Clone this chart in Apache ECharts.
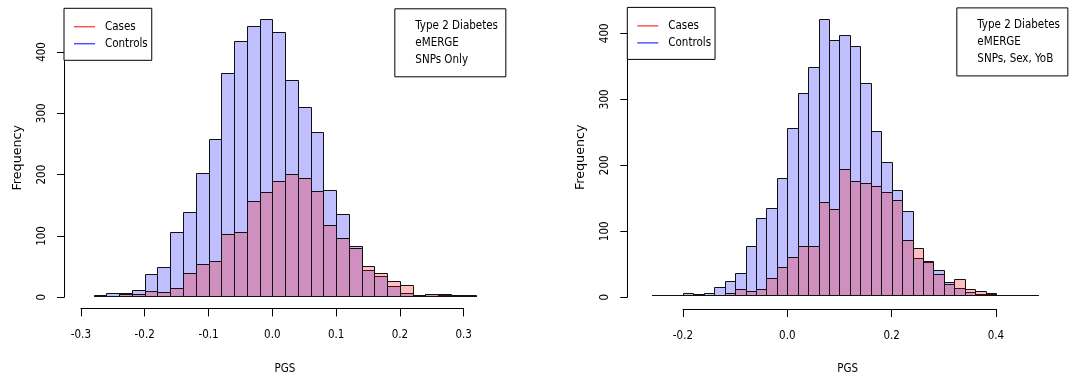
<!DOCTYPE html>
<html>
<head>
<meta charset="utf-8">
<script src="https://cdn.jsdelivr.net/npm/echarts@6.0.0/dist/echarts.min.js"></script>
<style>
html,body{margin:0;padding:0;background:#ffffff;}
#chart{width:1079px;height:380px;}
</style>
</head>
<body>
<div id="chart"></div>
<script>
// ---------------- data ----------------
const binWidth = 0.02;

// Panel 1: SNPs Only (bin left edges)
const binEdges1 = [-0.28,-0.26,-0.24,-0.22,-0.20,-0.18,-0.16,-0.14,-0.12,-0.10,
                   -0.08,-0.06,-0.04,-0.02,0.00,0.02,0.04,0.06,0.08,0.10,
                   0.12,0.14,0.16,0.18,0.20,0.22,0.24,0.26,0.28,0.30];
const controls1 = [1,5,5,9,36,48,105,138,202,257,
                   365,417,442,453,433,354,309,268,173,134,
                   82,43,33,17,5,1,3,2,0,1];
const cases1    = [0,0,3,3,8,6,13,37,53,58,
                   102,104,155,170,189,199,193,172,117,95,
                   79,49,38,25,18,1,3,3,1,0];

// Panel 2: SNPs, Sex, YoB (bin left edges)
const binEdges2 = [-0.26,-0.24,-0.22,-0.20,-0.18,-0.16,-0.14,-0.12,-0.10,-0.08,
                   -0.06,-0.04,-0.02,0.00,0.02,0.04,0.06,0.08,0.10,0.12,
                   0.14,0.16,0.18,0.20,0.22,0.24,0.26,0.28,0.30,0.32,
                   0.34,0.36,0.38,0.40,0.42,0.44,0.46];
const controls2 = [1,0,0,3,2,4,13,22,34,75,
                   118,133,179,256,308,348,421,390,397,380,
                   324,251,204,161,129,57,51,38,21,12,
                   5,2,2,1,1,0,1];
const cases2    = [0,0,0,1,1,1,1,3,9,7,
                   9,27,43,59,76,75,143,131,193,175,
                   171,167,158,145,85,73,52,32,17,25,
                   10,6,3,1,1,0,0];

const seriesNames = ['Cases', 'Controls'];
const infoText1 = ['Type 2 Diabetes', 'eMERGE', 'SNPs Only'];
const infoText2 = ['Type 2 Diabetes', 'eMERGE', 'SNPs, Sex, YoB'];
const xAxisTitle = 'PGS';
const yAxisTitle = 'Frequency';

// ---------------- layout (pixel calibration per panel) ----------------
const FONT = "'DejaVu Sans Condensed', 'DejaVu Sans', sans-serif";
const FONT_V = "'DejaVu Sans', sans-serif";
const FS = 11.5;
const panels = [
  {zeroX: 272.3, pxPerX: 638.0, zeroY: 297.3, pxPerY: 0.6133,
   plotL: 64, plotR: 506, plotT: 8.5, plotB: 308.4,
   xMin: -0.3, xMax: 0.3, xInt: 0.1, yMax: 400, yInt: 100,
   edges: binEdges1, controls: controls1, cases: cases1, info: infoText1},
  {zeroX: 787.3, pxPerX: 521.7, zeroY: 297.3, pxPerY: 0.66,
   plotL: 627.3, plotR: 1068, plotT: 7.6, plotB: 309,
   xMin: -0.2, xMax: 0.4, xInt: 0.2, yMax: 400, yInt: 100,
   edges: binEdges2, controls: controls2, cases: cases2, info: infoText2}
];

const W = 1079;
const controlFill = 'rgba(0,0,255,0.25)';
const caseFill = 'rgba(255,0,0,0.25)';
const caseLine = '#ff0000';
const controlLine = '#0000ff';

const grids = [], xAxes = [], yAxes = [], series = [], legends = [], titles = [];

function makeRender(fill) {
  return function (params, api) {
    const x0 = api.value(0), h = api.value(1);
    const p0 = api.coord([x0, 0]);
    const p1 = api.coord([x0 + binWidth, h]);
    const xa = Math.round(p0[0]) + 0.5, xb = Math.round(p1[0]) + 0.5;
    const yb = Math.round(p0[1]) + 0.5, yt = Math.round(p1[1]) + 0.5;
    return {
      type: 'rect',
      shape: {x: xa, y: yt, width: xb - xa, height: yb - yt},
      style: {fill: fill, stroke: '#111', lineWidth: 1}
    };
  };
}

panels.forEach(function (p, i) {
  // data grid = full R plot region (axes hidden, only titles shown)
  const gData = grids.length;
  grids.push({left: p.plotL, top: p.plotT, width: p.plotR - p.plotL, height: p.plotB - p.plotT, containLabel: false});
  xAxes.push({
    type: 'value', gridIndex: gData,
    min: (p.plotL - p.zeroX) / p.pxPerX, max: (p.plotR - p.zeroX) / p.pxPerX,
    axisLine: {show: false}, axisTick: {show: false}, axisLabel: {show: false}, splitLine: {show: false},
    name: xAxisTitle, nameLocation: 'middle', nameGap: 56,
    nameTextStyle: {fontFamily: FONT, fontSize: FS, color: '#000'}
  });
  const xData = xAxes.length - 1;
  yAxes.push({
    type: 'value', gridIndex: gData,
    min: (p.zeroY - p.plotB) / p.pxPerY, max: (p.zeroY - p.plotT) / p.pxPerY,
    axisLine: {show: false}, axisTick: {show: false}, axisLabel: {show: false}, splitLine: {show: false},
    name: yAxisTitle, nameLocation: 'middle', nameGap: 40,
    nameTextStyle: {fontFamily: FONT_V, fontSize: 12.7, color: '#000'}
  });
  const yData = yAxes.length - 1;

  // axis grid: spans exactly the tick range (R style detached axes)
  const gAx = grids.length;
  const axL = p.zeroX + p.xMin * p.pxPerX;
  const axT = p.zeroY - p.yMax * p.pxPerY;
  grids.push({left: axL, top: axT, width: (p.xMax - p.xMin) * p.pxPerX, height: p.yMax * p.pxPerY, containLabel: false});
  xAxes.push({
    type: 'value', gridIndex: gAx, min: p.xMin, max: p.xMax, interval: p.xInt,
    offset: p.plotB - p.zeroY,
    axisLine: {show: true, onZero: false, lineStyle: {color: '#000', width: 1}},
    axisTick: {show: true, length: 8, lineStyle: {color: '#000'}},
    axisLabel: {show: true, margin: 21, fontFamily: FONT, fontSize: FS, color: '#000',
      formatter: function (v) { return v.toFixed(1); }},
    splitLine: {show: false}
  });
  yAxes.push({
    type: 'value', gridIndex: gAx, min: 0, max: p.yMax, interval: p.yInt,
    offset: axL - p.plotL,
    axisLine: {show: true, onZero: false, lineStyle: {color: '#000', width: 1}},
    axisTick: {show: true, length: 7, lineStyle: {color: '#000'}},
    axisLabel: {show: true, rotate: 90, margin: 16, fontFamily: FONT, fontSize: FS, color: '#000'},
    splitLine: {show: false}
  });

  series.push({
    type: 'custom', name: 'Controls', xAxisIndex: xData, yAxisIndex: yData,
    data: p.edges.map(function (e, k) { return [e, p.controls[k]]; }),
    encode: {x: 0, y: 1}, renderItem: makeRender(controlFill),
    itemStyle: {color: controlLine}, z: 2
  });
  series.push({
    type: 'custom', name: 'Cases', xAxisIndex: xData, yAxisIndex: yData,
    data: p.edges.map(function (e, k) { return [e, p.cases[k]]; }),
    encode: {x: 0, y: 1}, renderItem: makeRender(caseFill),
    itemStyle: {color: caseLine}, z: 3
  });

  legends.push({
    left: p.plotL, top: p.plotT - 0.2, orient: 'vertical',
    data: [
      {name: seriesNames[0], icon: 'rect', itemStyle: {color: caseLine, borderColor: caseLine, borderWidth: 0}},
      {name: seriesNames[1], icon: 'rect', itemStyle: {color: controlLine, borderColor: controlLine, borderWidth: 0}}
    ],
    itemWidth: 21, itemHeight: 1, itemGap: 3,
    padding: [11.5, 4, 9.5, 10],
    borderColor: '#000', borderWidth: 1, backgroundColor: '#fff',
    selectedMode: false,
    textStyle: {fontFamily: FONT, fontSize: FS, color: '#000', lineHeight: 14, padding: [0, 0, 0, 5]}
  });

  titles.push({
    text: p.info.join('\n'),
    right: W - p.plotR, top: p.plotT - 0.2,
    padding: [9, 8, 9, 21],
    borderColor: '#000', borderWidth: 1, backgroundColor: '#fff',
    textStyle: {fontFamily: FONT, fontSize: FS, fontWeight: 'normal', lineHeight: 17, color: '#000'}
  });
});

const chart = echarts.init(document.getElementById('chart'), null, {renderer: 'canvas'});
chart.setOption({
  animation: false,
  backgroundColor: '#ffffff',
  title: titles,
  legend: legends,
  grid: grids,
  xAxis: xAxes,
  yAxis: yAxes,
  series: series
});
</script>
</body>
</html>
